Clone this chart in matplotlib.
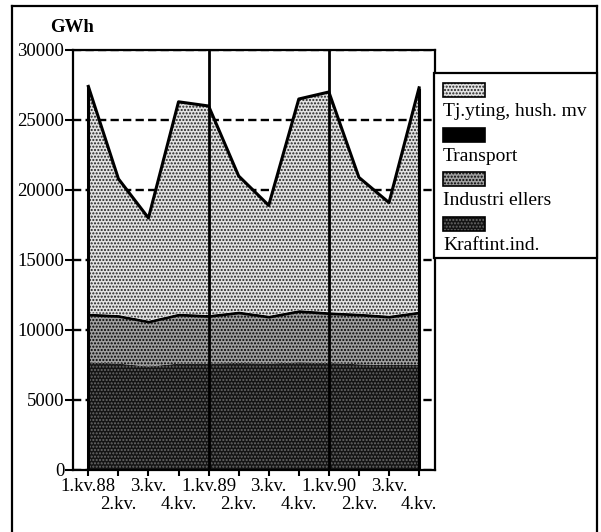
import numpy as np
import matplotlib.pyplot as plt
from matplotlib.patches import Rectangle
from matplotlib.lines import Line2D

plt.rcParams['font.family'] = ['Liberation Serif', 'DejaVu Serif']
plt.rcParams['hatch.linewidth'] = 1.0

W, H = 601, 532

# Kvartal og forbruk (GWh), lest av figuren
kvartal = ["1.kv.88", "2.kv.", "3.kv.", "4.kv.", "1.kv.89", "2.kv.",
           "3.kv.", "4.kv.", "1.kv.90", "2.kv.", "3.kv.", "4.kv."]
kraftint = [7700, 7600, 7400, 7600, 7600, 7650, 7600, 7700, 7650, 7550, 7500, 7500]
industri = [3300, 3300, 3100, 3400, 3300, 3500, 3250, 3550, 3450, 3450, 3350, 3650]
transport = [200, 200, 200, 200, 200, 200, 200, 200, 200, 200, 200, 200]
tjyting = [16200, 9700, 7300, 15100, 14900, 9650, 7850, 15050, 15700, 9700, 8050, 15950]

serier = ["Kraftint.ind.", "Industri ellers", "Transport", "Tj.yting, hush. mv"]
verdier = [kraftint, industri, transport, tjyting]
# (fyllfarge, skravur, farge på prikkene)
stil = {
    "Kraftint.ind.": ("#141414", ".....", "#6a6a6a"),
    "Industri ellers": ("#a0a0a0", ".....", "black"),
    "Transport": ("black", None, "black"),
    "Tj.yting, hush. mv": ("#e2e2e2", ".....", "#202020"),
}

fig = plt.figure(figsize=(W / 100, H / 100), dpi=100)
ax = fig.add_axes([72.7 / W, 1 - 470 / H, (435 - 72.7) / W, 420 / H])

x = np.arange(len(kvartal))
bunn = np.zeros(len(x))
for navn, v in zip(serier, verdier):
    fc, hatch, hc = stil[navn]
    topp = bunn + np.array(v)
    ax.fill_between(x, bunn, topp, facecolor=fc, edgecolor=hc, hatch=hatch,
                    linewidth=0, zorder=2)
    bunn = topp

# omriss av totalen
ax.plot(x, bunn, color="black", lw=2.2, zorder=4)
ax.vlines([x[0], x[-1]], 0, [bunn[0], bunn[-1]], color="black", lw=2.2, zorder=4)
# årsskiller
ax.axvline(4, color="black", lw=2, zorder=5)
ax.axvline(8, color="black", lw=2, zorder=5)

ax.set_xlim(-0.52, 11.53)
ax.set_ylim(0, 30000)
ax.set_yticks(np.arange(0, 30001, 5000))
ax.yaxis.grid(True, color="black", lw=1.7, linestyle=(0, (3.5, 1.8)), zorder=1)
ax.set_axisbelow(True)
for s in ax.spines.values():
    s.set_linewidth(1.6)

ax.set_xticks(x[::2])
ax.set_xticklabels(kvartal[::2])
ax.set_xticks(x[1::2], minor=True)
ax.set_xticklabels(kvartal[1::2], minor=True)
ax.tick_params(axis="x", which="both", direction="out", length=4, width=1.5,
               labelsize=13.5)
ax.tick_params(axis="x", which="major", pad=2)
ax.tick_params(axis="x", which="minor", pad=15)
ax.tick_params(axis="y", direction="out", length=6, width=1.5, pad=0,
               labelsize=13.5)

fig.text(72 / W, 1 - 28 / H, "GWh", ha="center", va="center",
         fontsize=13.5, fontweight="bold")

# ramme rundt hele figuren
for xs, ys in [([11.7, 11.7], [H, 6]), ([11.7, 597], [6, 6]), ([597, 597], [6, H])]:
    fig.add_artist(Line2D([a / W for a in xs], [1 - b / H for b in ys],
                          color="black", lw=1.6, transform=fig.transFigure))

# tegnforklaring
fig.add_artist(Rectangle((434 / W, 1 - 258 / H), (597 - 434) / W, (258 - 73) / H,
                         facecolor="white", edgecolor="black", lw=1.6,
                         transform=fig.transFigure, zorder=3))
lx = 443
for i, navn in enumerate(serier[::-1]):
    fc, hatch, hc = stil[navn]
    ytop = 83 + i * 44.5
    fig.add_artist(Rectangle((lx / W, 1 - (ytop + 14) / H), 42 / W, 14 / H,
                             facecolor=fc, edgecolor=hc, hatch=hatch, lw=0,
                             transform=fig.transFigure, zorder=4))
    fig.add_artist(Rectangle((lx / W, 1 - (ytop + 14) / H), 42 / W, 14 / H,
                             facecolor="none", edgecolor="black", lw=1.2,
                             transform=fig.transFigure, zorder=5))
    fig.text(lx / W, 1 - (ytop + 33) / H, navn, ha="left", va="baseline",
             fontsize=14, zorder=5)

fig.savefig("out.png", dpi=100)
